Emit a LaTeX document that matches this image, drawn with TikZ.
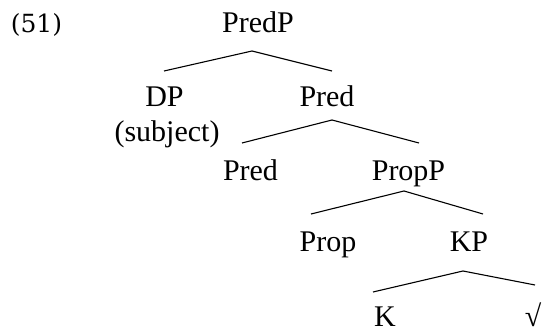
\documentclass[tikz,border=0pt]{standalone}
\usepackage{fontspec}
\setmainfont{Liberation Serif}
\newfontfamily\exnumfont{DejaVu Serif}
\tikzset{
  cat/.style={anchor=base, inner sep=0pt, font=\fontsize{15}{18}\selectfont},
  exnum/.style={anchor=base, inner sep=0pt, font=\exnumfont\fontsize{12.5}{15}\selectfont},
  branch/.style={line width=0.55pt}
}
\begin{document}
\begin{tikzpicture}[x=0.5pt,y=-0.5pt]
  \useasboundingbox (0,0) rectangle (542,331);
  \node[exnum] (exno) at (36.5,33) {(51)};
  % categories
  \node[cat] (predp) at (258,33) {PredP};
  \node[cat] (dp) at (164.5,107) {DP};
  \node[cat] (subj) at (167,142) {(subject)};
  \node[cat] (pred) at (327,107) {Pred};
  \node[cat] (predhd) at (250.5,181) {Pred};
  \node[cat] (propp) at (408.5,181) {PropP};
  \node[cat] (prop) at (328,252) {Prop};
  \node[cat] (kp) at (469,252) {KP};
  \node[cat] (k) at (385,327) {K};
  \node[cat] (root) at (533,327) {√};
  % branches
  \draw[branch] ([shift={(-6,18)}]predp.base) -- ([shift={(-0.5,-36)}]dp.base);
  \draw[branch] ([shift={(-6,18)}]predp.base) -- ([shift={(5,-36)}]pred.base);
  \draw[branch] ([shift={(5,13)}]pred.base) -- ([shift={(-8.5,-38)}]predhd.base);
  \draw[branch] ([shift={(5,13)}]pred.base) -- ([shift={(10.5,-38)}]propp.base);
  \draw[branch] ([shift={(-4.5,10)}]propp.base) -- ([shift={(-17,-38)}]prop.base);
  \draw[branch] ([shift={(-4.5,10)}]propp.base) -- ([shift={(14,-38)}]kp.base);
  \draw[branch] ([shift={(-6,19)}]kp.base) -- ([shift={(-12,-35)}]k.base);
  \draw[branch] ([shift={(-6,19)}]kp.base) -- ([shift={(2,-42)}]root.base);
\end{tikzpicture}
\end{document}
